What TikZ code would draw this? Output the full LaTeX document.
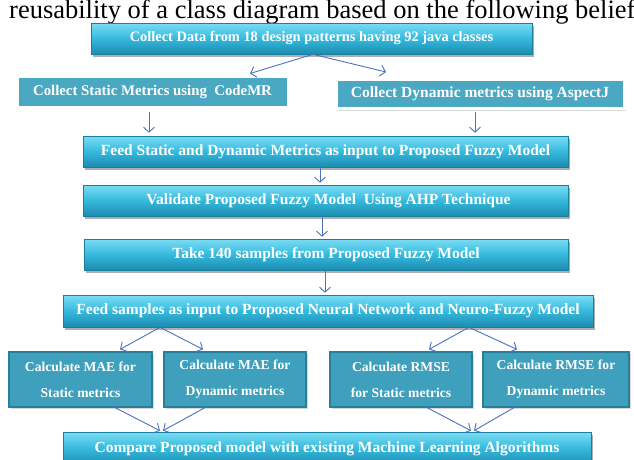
\documentclass[tikz,border=0pt]{standalone}
\usepackage{fontspec}
\setmainfont{Liberation Serif}
\usetikzlibrary{arrows.meta,shadows,calc}

\definecolor{flowarrow}{HTML}{4A72C0}
\definecolor{bevtop}{HTML}{7ADDF4}
\definecolor{bevmid}{HTML}{35B9DC}
\definecolor{bevbot}{HTML}{1C8CB0}
\definecolor{bevedge}{HTML}{1A7E9E}
\definecolor{flatfill}{HTML}{4AA8C3}
\definecolor{calcfill}{HTML}{3EA0BC}
\definecolor{calcedge}{HTML}{2A7F98}

\tikzset{
  bevelbox/.style={rectangle, inner sep=0pt, draw=bevedge, line width=0.6pt,
    top color=bevtop, bottom color=bevbot, middle color=bevmid,
    drop shadow={shadow xshift=2pt, shadow yshift=-2.5pt, opacity=0.45, fill=black!70},
    text=white, font=\fontsize{15.5}{17}\selectfont\bfseries},
  flatbox/.style={rectangle, inner sep=0pt, fill=flatfill, draw=white, line width=3pt,
    drop shadow={shadow xshift=1.5pt, shadow yshift=-2pt, opacity=0.35, fill=black!40},
    text=white, font=\fontsize{15.5}{17}\selectfont\bfseries},
  calcbox/.style={rectangle, inner sep=0pt, fill=calcfill, draw=calcedge, line width=1.2pt,
    drop shadow={shadow xshift=1.5pt, shadow yshift=-1.5pt, opacity=0.3, fill=black!50},
    text=white, align=center, font=\fontsize{13.6}{26}\selectfont\bfseries},
  flow/.style={draw=flowarrow, line width=0.9pt,
    -{Straight Barb[length=5pt,width=11pt,line width=0.9pt]}},
}

\begin{document}
\begin{tikzpicture}[x=1pt,y=-1pt]
  \clip (0,0) rectangle (634,459);
  \fill[white] (0,0) rectangle (634,459);

  % running text of the surrounding page
  \node[anchor=base west, inner sep=0pt, font=\fontsize{26.5}{28}\selectfont] (head) at (9,18)
    {reusability of a class diagram based on the following belief};

  % process steps
  \node[bevelbox, minimum width=441pt, minimum height=31pt,
        font=\fontsize{14.4}{16}\selectfont\bfseries] (data) at (311.5,38.5)
    {Collect Data from 18 design patterns having 92 java classes};
  \node[flatbox, minimum width=271pt, minimum height=31pt,
        font=\fontsize{14.8}{16}\selectfont\bfseries] (stat) at (152.5,91.5)
    {Collect Static Metrics using\ \ CodeMR};
  \node[flatbox, minimum width=288pt, minimum height=29pt] (dyn) at (480,94)
    {Collect Dynamic metrics using AspectJ};
  \node[bevelbox, minimum width=485pt, minimum height=31pt] (feed) at (325.5,151.5)
    {Feed Static and Dynamic Metrics as input to Proposed Fuzzy Model};
  \node[bevelbox, minimum width=485pt, minimum height=31pt] (valid) at (325.5,200.5)
    {\hspace*{6pt}Validate Proposed Fuzzy Model\ \ Using AHP Technique};
  \node[bevelbox, minimum width=484pt, minimum height=31pt] (take) at (326,254.5)
    {Take 140 samples from Proposed Fuzzy Model};
  \node[bevelbox, minimum width=530pt, minimum height=32pt] (samp) at (328,311)
    {Feed samples as input to Proposed Neural Network and Neuro-Fuzzy Model};

  \node[calcbox, minimum width=143pt, minimum height=55pt] (mae1) at (80.5,379.5)
    {Calculate MAE for\\Static metrics};
  \node[calcbox, minimum width=142pt, minimum height=55pt] (mae2) at (235,379.5)
    {Calculate MAE for\\Dynamic metrics};
  \node[calcbox, minimum width=142pt, minimum height=55pt] (rmse1) at (401,379.5)
    {Calculate RMSE\\for Static metrics};
  \node[calcbox, minimum width=146pt, minimum height=55pt] (rmse2) at (556,379.5)
    {Calculate RMSE for\\Dynamic metrics};

  \node[bevelbox, minimum width=528pt, minimum height=33pt] (comp) at (327,448.5)
    {Compare Proposed model with existing Machine Learning Algorithms};

  % connectors
  \draw[flow] ($(data.south)+(1.5,0)$) -- ($(stat.north)+(97.5,-1)$);
  \draw[flow] ($(data.south)+(1.5,0)$) -- ($(dyn.north)+(-94,-6)$);
  \draw[flow] ($(stat.south)+(-3.5,3)$) -- ($(feed.north)+(-176.5,-3)$);
  \draw[flow] ($(dyn.south)+(-5,2)$) -- ($(feed.north)+(149.5,-3)$);
  \draw[flow] ($(feed.south)+(-5.5,0)$) -- ($(valid.north)+(-5.5,-2)$);
  \draw[flow] ($(valid.south)+(-3.5,0)$) -- ($(take.north)+(-4,-2)$);
  \draw[flow] ($(take.south)+(-1,0)$) -- ($(samp.north)+(-3,-2)$);
  \draw[flow] ($(samp.south)+(-168,0)$) -- ($(mae1.north)+(39.5,-2)$);
  \draw[flow] ($(samp.south)+(-168,0)$) -- ($(mae2.north)+(-32,-2)$);
  \draw[flow] ($(samp.south)+(141,0)$) -- ($(rmse1.north)+(28,-2)$);
  \draw[flow] ($(samp.south)+(141,0)$) -- ($(rmse2.north)+(-39,-2)$);
  \draw[flow] ($(mae1.south)+(34.5,0)$) -- ($(comp.north)+(-167,-1)$);
  \draw[flow] ($(mae2.south)+(-30,0)$) -- ($(comp.north)+(-164,-1)$);
  \draw[flow] ($(rmse1.south)+(26,0)$) -- ($(comp.north)+(144,-1)$);
  \draw[flow] ($(rmse2.south)+(-42,0)$) -- ($(comp.north)+(147,-1)$);
\end{tikzpicture}
\end{document}
